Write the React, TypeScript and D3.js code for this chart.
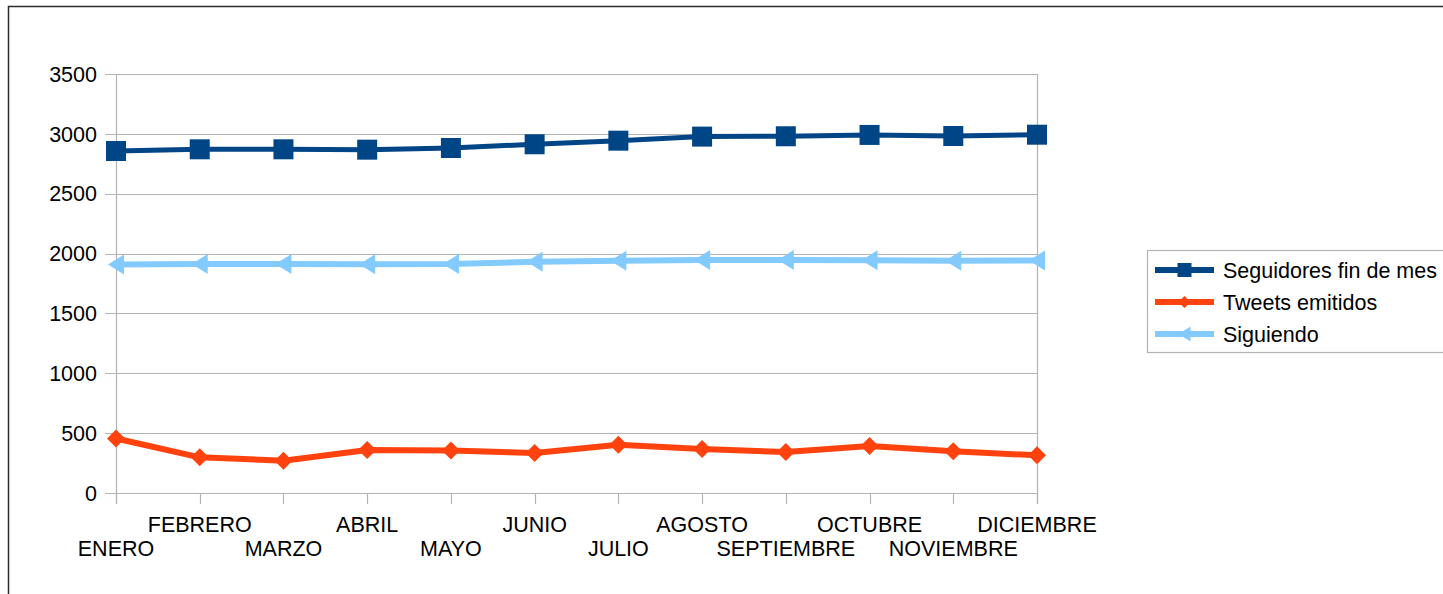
import { useEffect, useRef } from 'react';
import * as d3 from 'd3';

const months = [
  'ENERO', 'FEBRERO', 'MARZO', 'ABRIL', 'MAYO', 'JUNIO',
  'JULIO', 'AGOSTO', 'SEPTIEMBRE', 'OCTUBRE', 'NOVIEMBRE', 'DICIEMBRE',
];
const seguidores = [2857, 2871, 2871, 2868, 2882, 2913, 2943, 2977, 2980, 2991, 2982, 2993];
const tweets = [455, 298, 270, 359, 355, 334, 403, 367, 342, 393, 348, 315];
const siguiendo = [1908, 1913, 1913, 1911, 1913, 1932, 1940, 1946, 1946, 1944, 1940, 1943];
const yTicks = [0, 500, 1000, 1500, 2000, 2500, 3000, 3500];

type Marker = 'square' | 'diamond' | 'triangle';

const series: { name: string; values: number[]; color: string; marker: Marker; width: number }[] = [
  { name: 'Seguidores fin de mes', values: seguidores, color: '#004586', marker: 'square', width: 5 },
  { name: 'Tweets emitidos', values: tweets, color: '#ff420e', marker: 'diamond', width: 6 },
  { name: 'Siguiendo', values: siguiendo, color: '#83caff', marker: 'triangle', width: 6 },
];

const FONT = '"Liberation Sans", Arial, sans-serif';
const FONT_SIZE = '21.5px';

// marker path centred on 0,0
const markerPath = (m: Marker, s: number) => {
  if (m === 'square') return `M${-s / 2},${-s / 2}h${s}v${s}h${-s}Z`;
  if (m === 'diamond') return `M0,${-s / 2}L${s / 2},0L0,${s / 2}L${-s / 2},0Z`;
  // triangle pointing left
  const w = s * 0.8;
  return `M${-w / 2},0L${w / 2},${-s / 2}L${w / 2},${s / 2}Z`;
};

const Chart = () => {
  const ref = useRef<SVGSVGElement | null>(null);

  useEffect(() => {
    if (!ref.current) return;
    const svg = d3.select(ref.current);
    svg.selectAll('*').remove();

    const width = 1443;
    const height = 594;
    const plot = { left: 116, right: 1037, top: 74, bottom: 493 };

    const x = d3.scalePoint<string>().domain(months).range([plot.left, plot.right]);
    const y = d3.scaleLinear().domain([0, 3500]).range([plot.bottom, plot.top]);

    svg.append('rect').attr('width', width).attr('height', height).attr('fill', '#fff');

    // outer chart border (runs off right and bottom)
    svg.append('rect')
      .attr('x', 8.5).attr('y', 6.5)
      .attr('width', width).attr('height', height)
      .attr('fill', 'none').attr('stroke', '#2b2b2b').attr('stroke-width', 1.5);

    const grid = '#b3b3b3';

    // horizontal gridlines
    svg.append('g').selectAll('line')
      .data(yTicks)
      .enter().append('line')
      .attr('x1', plot.left - 11).attr('x2', plot.right)
      .attr('y1', d => Math.round(y(d)) + 0.5).attr('y2', d => Math.round(y(d)) + 0.5)
      .attr('stroke', grid).attr('stroke-width', 1.2);

    // left and right frame lines
    svg.append('line')
      .attr('x1', plot.left + 0.5).attr('x2', plot.left + 0.5)
      .attr('y1', plot.top).attr('y2', plot.bottom + 11)
      .attr('stroke', grid).attr('stroke-width', 1.2);
    svg.append('line')
      .attr('x1', plot.right + 0.5).attr('x2', plot.right + 0.5)
      .attr('y1', plot.top).attr('y2', plot.bottom + 11)
      .attr('stroke', grid).attr('stroke-width', 1.2);

    // category ticks
    svg.append('g').selectAll('line')
      .data(months)
      .enter().append('line')
      .attr('x1', d => Math.round(x(d) || 0) + 0.5).attr('x2', d => Math.round(x(d) || 0) + 0.5)
      .attr('y1', plot.bottom).attr('y2', plot.bottom + 11)
      .attr('stroke', grid).attr('stroke-width', 1.2);

    // y labels
    svg.append('g').selectAll('text')
      .data(yTicks)
      .enter().append('text')
      .attr('x', 97).attr('y', d => y(d))
      .attr('dy', '0.36em')
      .attr('text-anchor', 'end')
      .style('font-family', FONT).style('font-size', FONT_SIZE).attr('fill', '#000')
      .text(d => String(d));

    // x labels, staggered over two rows
    svg.append('g').selectAll('text')
      .data(months)
      .enter().append('text')
      .attr('x', d => x(d) || 0)
      .attr('y', (_, i) => (i % 2 === 1 ? 532 : 556))
      .attr('text-anchor', 'middle')
      .style('font-family', FONT).style('font-size', FONT_SIZE).attr('fill', '#000')
      .text(d => d);

    const line = d3.line<number>()
      .x((_, i) => x(months[i]) || 0)
      .y(d => y(d));

    const sizes: Record<Marker, number> = { square: 20, diamond: 18, triangle: 20 };

    series.forEach(s => {
      svg.append('path')
        .datum(s.values)
        .attr('fill', 'none')
        .attr('stroke', s.color)
        .attr('stroke-width', s.width)
        .attr('stroke-linejoin', 'round')
        .attr('d', line);

      svg.append('g').selectAll('path')
        .data(s.values)
        .enter().append('path')
        .attr('transform', (d, i) => `translate(${x(months[i])},${y(d)})`)
        .attr('d', markerPath(s.marker, sizes[s.marker]))
        .attr('fill', s.color);
    });

    // legend
    const legend = svg.append('g');
    legend.append('rect')
      .attr('x', 1147.5).attr('y', 250.5)
      .attr('width', 320).attr('height', 102)
      .attr('fill', '#fff').attr('stroke', grid).attr('stroke-width', 1.2);

    const legendSizes: Record<Marker, number> = { square: 14, diamond: 12, triangle: 15 };
    series.forEach((s, i) => {
      const cy = 270 + i * 32;
      legend.append('line')
        .attr('x1', 1155).attr('x2', 1214)
        .attr('y1', cy).attr('y2', cy)
        .attr('stroke', s.color).attr('stroke-width', 6);
      legend.append('path')
        .attr('transform', `translate(1184.5,${cy})`)
        .attr('d', markerPath(s.marker, legendSizes[s.marker]))
        .attr('fill', s.color);
      legend.append('text')
        .attr('x', 1223).attr('y', cy)
        .attr('dy', '0.36em')
        .style('font-family', FONT).style('font-size', FONT_SIZE).attr('fill', '#000')
        .text(s.name);
    });

    return () => {
      svg.selectAll('*').remove();
    };
  }, []);

  return (
    <svg
      ref={ref}
      width={1443}
      height={594}
      style={{ position: 'absolute', left: 0, top: 0, display: 'block' }}
    />
  );
};

export default function App() {
  return <Chart />;
}
